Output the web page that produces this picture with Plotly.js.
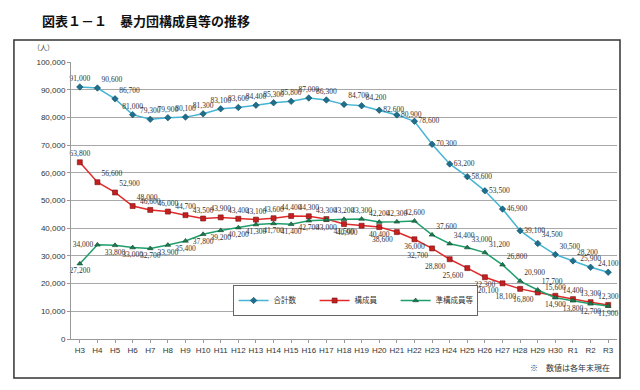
<!DOCTYPE html>
<html><head><meta charset="utf-8">
<script src="https://cdn.plot.ly/plotly-3.0.1.min.js"></script>
<style>body{margin:0;background:#fff}#c{width:640px;height:390px}</style>
</head><body><div id="c"></div>
<script>
const years = ["H3","H4","H5","H6","H7","H8","H9","H10","H11","H12","H13","H14","H15","H16","H17","H18","H19","H20","H21","H22","H23","H24","H25","H26","H27","H28","H29","H30","R1","R2","R3"];
const total = [91000,90600,86700,81000,79300,79900,80100,81300,83100,83600,84400,85300,85800,87000,86300,84700,84200,82600,80900,78600,70300,63200,58600,53500,46900,39100,34500,30500,28200,25900,24100];
const members = [63800,56600,52900,48000,46600,46000,44700,43500,43900,43400,43100,43600,44400,44300,43300,41500,40900,40400,38600,36000,32700,28800,25600,22300,20100,18100,16800,15600,14400,13300,12300];
const associates = [27200,34000,33800,33000,32700,33900,35400,37800,39200,40200,41300,41700,41400,42700,43000,43200,43300,42200,42300,42600,37600,34400,33000,31200,26800,20900,17700,14900,13800,12700,11900];
const names = ["合計数","構成員","準構成員等"];

const fmt = v => v.toLocaleString("en-US");
const TC="top center", TR="top right", BC="bottom center", BL="bottom left", ML="middle left", MR="middle right";
const posTotal = [TC,TR,TR,TC,TC,TC,TC,TC,TC,TC,TC,TC,TC,TC,TC,TR,TR,MR,MR,MR,MR,MR,MR,MR,MR,MR,TR,TR,TR,TC,TC];
const posMem = [TC,TR,TR,TR,TC,TC,TC,TC,TC,TC,TC,TC,TC,TC,TC,BC,BL,BC,BL,BC,BL,BL,BL,BC,BL,BL,BL,TC,TC,TC,TC];
const posAsc = [BC,ML,BC,BC,BC,BC,BC,BC,BC,BC,BC,BC,BC,BC,BC,TC,TC,TC,TC,TC,TR,TR,TR,TR,TR,TR,TR,BC,BC,BC,BC];

const lf = {family:"Liberation Serif, serif", size:7.5, color:"#333"};
function tr(y, name, pos, lineC, mSym, mC, mLine){
  return {x:years, y:y, name:name, type:"scatter", mode:"lines+markers+text",
    text:y.map(fmt), textposition:pos, textfont:lf, cliponaxis:false,
    line:{color:lineC, width:1.5},
    marker:{symbol:mSym, size:5, color:mC, line:{color:mLine, width:0.6}}};
}
const data = [
  tr(total, names[0], posTotal, "#46b4d4", "diamond", "#1f6e8c", "#0f4f66"),
  tr(members, names[1], posMem, "#e02a2a", "square", "#c42020", "#7a1010"),
  tr(associates, names[2], posAsc, "#1f9e6c", "triangle-up", "#1f7a50", "#0e4a2e")
];
const layout = {
  width:640, height:390, paper_bgcolor:"#fff", plot_bgcolor:"#fff",
  margin:{l:71, r:23, t:62, b:51},
  font:{family:"Noto Sans CJK JP, sans-serif", color:"#333"},
  showlegend:true,
  legend:{orientation:"h", x:0.296, y:0.195, xanchor:"left", yanchor:"top",
    bordercolor:"#666", borderwidth:1, bgcolor:"#fff", font:{size:7.5, color:"#333"},
    entrywidth:36, entrywidthmode:"pixels", tracegroupgap:0, itemwidth:30},
  xaxis:{type:"category", range:[-0.5, 30.5], tickangle:0, tickfont:{size:8, color:"#333", family:"Liberation Sans, sans-serif"},
    showline:true, linecolor:"#999", ticks:"outside", ticklen:3, tickcolor:"#999",
    showgrid:false, fixedrange:true, automargin:false},
  yaxis:{range:[0,100000], dtick:10000, tickformat:",d", tickfont:{size:8, color:"#333", family:"Liberation Sans, sans-serif"},
    showgrid:true, gridcolor:"#a8a8a8", gridwidth:1, showline:true, linecolor:"#999",
    ticks:"outside", ticklen:3, tickcolor:"#999", zeroline:false, fixedrange:true, automargin:false},
  shapes:[{type:"rect", xref:"paper", yref:"paper", x0:-0.1045, x1:1.0055, y0:-0.141, y1:1.079,
    line:{color:"#333", width:1.5}, fillcolor:"rgba(0,0,0,0)", layer:"below"}],
  annotations:[
    {xref:"paper", yref:"paper", x:-0.057, y:1.0, yshift:30, xanchor:"left", yanchor:"bottom", showarrow:false,
     text:"図表１－１　暴力団構成員等の推移", font:{size:13, color:"#111", weight:"bold"}},
    {xref:"paper", yref:"paper", x:-0.027, y:1.0, yshift:8, xanchor:"right", yanchor:"bottom", showarrow:false,
     text:"（人）", font:{size:7, color:"#444"}},
    {xref:"paper", yref:"paper", x:0.99, y:-0.103, xanchor:"right", yanchor:"middle", showarrow:false,
     text:"※　数値は各年末現在", font:{size:8, color:"#333"}}
  ]
};
Plotly.newPlot("c", data, layout, {staticPlot:true});
</script></body></html>
